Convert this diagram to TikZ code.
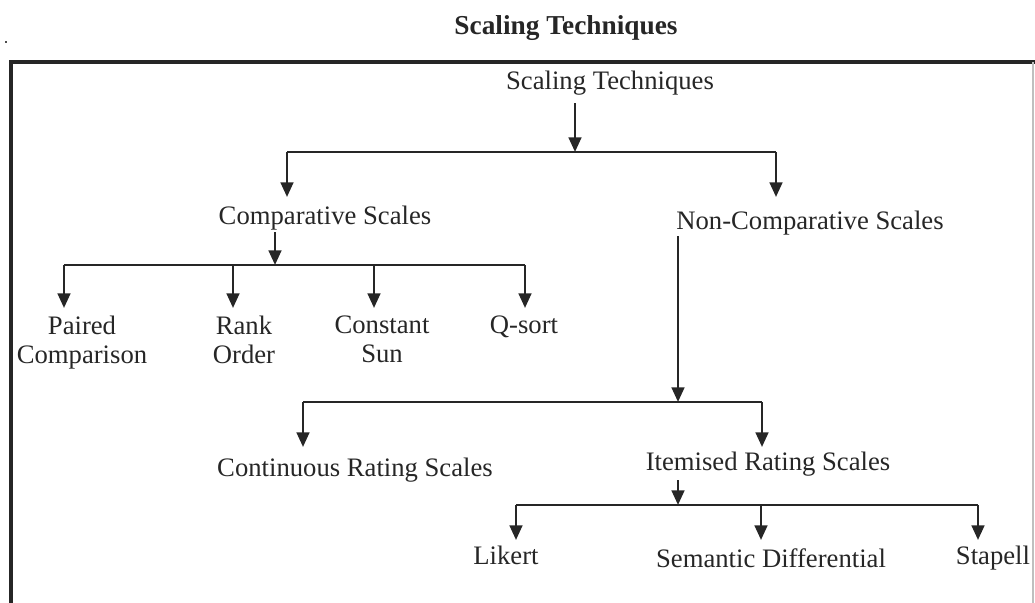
\documentclass[tikz,border=0pt]{standalone}
\usepackage{fontspec}
\setmainfont{Liberation Serif}
\usetikzlibrary{arrows.meta}
\begin{document}
\begin{tikzpicture}[x=0.75pt,y=-0.75pt,
  lbl/.style={font=\fontsize{20}{21.5}\selectfont, inner sep=0pt, text=black!85},
  ttl/.style={font=\fontsize{20.5}{22}\selectfont\bfseries, inner sep=0pt, text=black!85},
  ln/.style={line width=1.9pt, black!85},
  arr/.style={ln, -{Triangle[length=11pt,width=9.5pt]}},
  frame/.style={line width=2.4pt, black!85}]
\useasboundingbox (0,0) rectangle (1035,603);
% title and frame
\node[ttl, anchor=base] (title) at (566,34) {Scaling Techniques};
\fill[black!70] (5,41) rectangle (7,43);
\coordinate (ftl) at (11,62);
\coordinate (ftr) at (1035,62);
\coordinate (fbl) at (11,603);
\draw[frame] (fbl) -- (ftl) -- (ftr);
\draw[black!25, line width=0.8pt] (1033,62) -- (1033,603);
% nodes
\node[lbl, anchor=base] (root) at (610,89) {Scaling Techniques};
\node[lbl, anchor=base] (comp) at (325,224) {Comparative Scales};
\node[lbl, anchor=base] (noncomp) at (810,229) {Non-Comparative Scales};
\node[lbl, anchor=north, align=center] (paired) at (82,316) {Paired\\Comparison};
\node[lbl, anchor=north, align=center] (rank) at (244,316) {Rank\\Order};
\node[lbl, anchor=north, align=center] (const) at (382,316) {Constant\\Sun};
\node[lbl, anchor=base] (qsort) at (524,333) {Q-sort};
\node[lbl, anchor=base] (cont) at (355,476) {Continuous Rating Scales};
\node[lbl, anchor=base] (item) at (768,470) {Itemised Rating Scales};
\node[lbl, anchor=base] (likert) at (506,564) {Likert};
\node[lbl, anchor=base] (sem) at (771,567) {Semantic Differential};
\node[lbl, anchor=base] (stap) at (993,564) {Stapell};
% level 1
\coordinate (r0) at (575,103);
\coordinate (b1) at (575,152);
\coordinate (b1l) at (287,152);
\coordinate (b1r) at (776,152);
\draw[arr] (r0) -- (b1);
\draw[ln] (b1l) -- (b1r);
\draw[arr] (b1l) -- (287,197) coordinate (tcomp);
\draw[arr] (b1r) -- (776,197) coordinate (tnon);
% comparative
\coordinate (c0) at (275,232);
\coordinate (b2) at (275,265);
\coordinate (b2l) at (64,265);
\coordinate (b2r) at (525,265);
\draw[arr] (c0) -- (b2);
\draw[ln] (b2l) -- (b2r);
\draw[arr] (b2l) -- (64,308) coordinate (tpaired);
\draw[arr] (233,265) coordinate (b2a) -- (233,308) coordinate (trank);
\draw[arr] (374,265) coordinate (b2b) -- (374,308) coordinate (tconst);
\draw[arr] (b2r) -- (525,308) coordinate (tq);
% non-comparative
\coordinate (n0) at (678,236);
\coordinate (b3) at (678,402);
\coordinate (b3l) at (303,402);
\coordinate (b3r) at (762,402);
\draw[arr] (n0) -- (b3);
\draw[ln] (b3l) -- (b3r);
\draw[arr] (b3l) -- (303,447) coordinate (tcont);
\draw[arr] (b3r) -- (762,447) coordinate (titem);
% itemised
\coordinate (i0) at (678,480);
\coordinate (b4) at (678,505);
\coordinate (b4l) at (516,505);
\coordinate (b4r) at (978,505);
\draw[arr] (i0) -- (b4);
\draw[ln] (b4l) -- (b4r);
\draw[arr] (b4l) -- (516,540) coordinate (tlik);
\draw[arr] (761,505) coordinate (b4m) -- (761,540) coordinate (tsem);
\draw[arr] (b4r) -- (978,540) coordinate (tstap);
\end{tikzpicture}
\end{document}
